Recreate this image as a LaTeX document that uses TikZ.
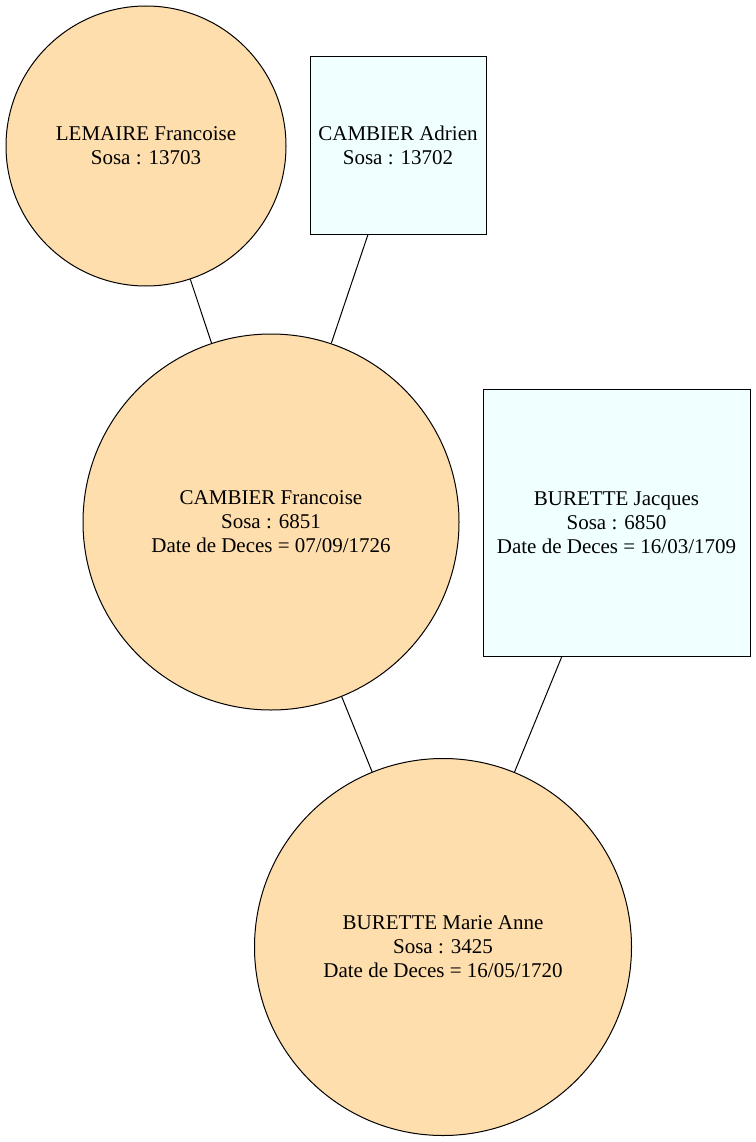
\documentclass[tikz,border=0pt]{standalone}
\usepackage{fontspec}
\setmainfont{Liberation Serif}
\definecolor{peach}{HTML}{FFDEAD}
\definecolor{azurebox}{HTML}{F0FFFF}
\begin{document}
\begin{tikzpicture}[x=1pt,y=-1pt,
  person/.style={draw=black, line width=1pt, align=center, inner sep=0pt,
    font=\fontsize{21}{24}\selectfont},
  female/.style={person, circle, fill=peach},
  male/.style={person, rectangle, fill=azurebox},
  link/.style={draw=black, line width=1pt}]
\useasboundingbox (0,0) rectangle (755,1142);
\node[female, minimum size=280pt] (lemaire) at (146,146) {LEMAIRE Francoise\\Sosa : 13703};
\node[male, minimum width=176pt, minimum height=177pt] (adrien) at (398,145.5) {CAMBIER Adrien\\Sosa : 13702};
\node[female, minimum size=376pt] (francoise) at (271,522) {CAMBIER Francoise\\Sosa : 6851\\Date de Deces = 07/09/1726};
\node[male, minimum width=267pt, minimum height=267pt] (jacques) at (616.5,522.5) {BURETTE Jacques\\Sosa : 6850\\Date de Deces = 16/03/1709};
\node[female, minimum size=377pt] (marie) at (443,947) {BURETTE Marie Anne\\Sosa : 3425\\Date de Deces = 16/05/1720};
\draw[link] (lemaire) -- (francoise);
\draw[link] (adrien) -- (francoise);
\draw[link] (francoise) -- (marie);
\draw[link] (jacques) -- (marie);
\end{tikzpicture}
\end{document}
